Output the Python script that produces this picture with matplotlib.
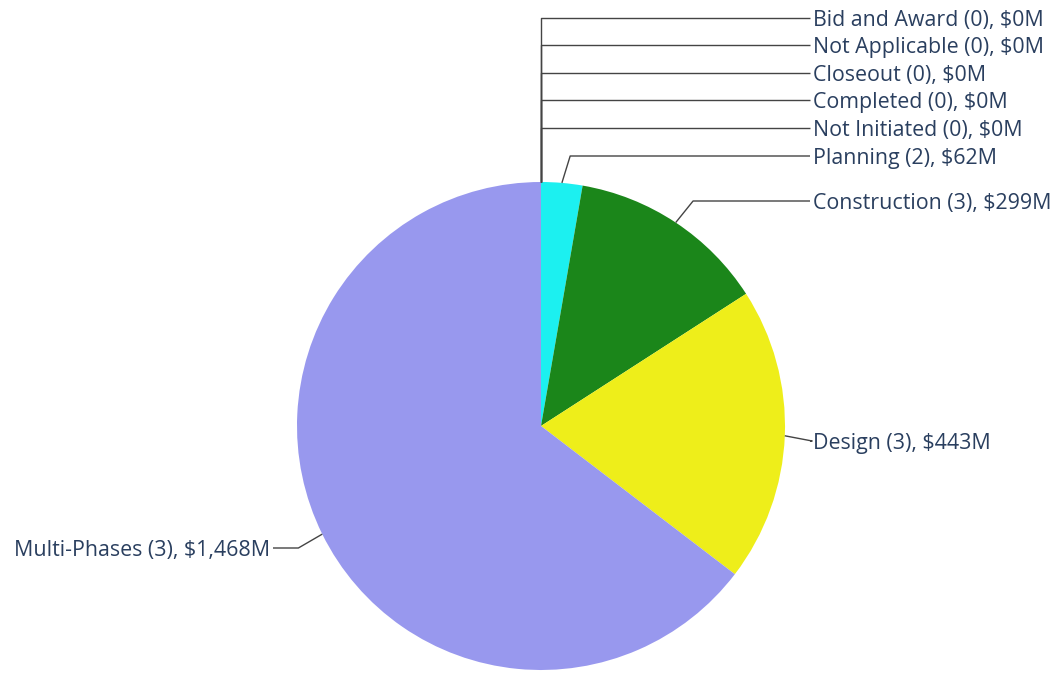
import numpy as np
import matplotlib
matplotlib.use("Agg")
import matplotlib.pyplot as plt

categories = ["Bid and Award", "Not Applicable", "Closeout", "Completed", "Not Initiated",
              "Planning", "Construction", "Design", "Multi-Phases"]
counts = [0, 0, 0, 0, 0, 2, 3, 3, 3]
values = [0, 0, 0, 0, 0, 62, 299, 443, 1468]
colors = ["#636efa", "#ef553b", "#00cc96", "#ab63fa", "#ffa15a",
          "#1cf0f0", "#1b861a", "#eeee1a", "#9898ee"]

W, H = 1058, 673
fig = plt.figure(figsize=(W / 100, H / 100), dpi=100)
ax = fig.add_axes([0, 0, 1, 1])

cx, cy, R = 541, H - 426, 244
ax.pie(values, colors=colors, startangle=90, counterclock=False,
       center=(cx, cy), radius=R, wedgeprops=dict(linewidth=0), frame=True)
ax.set_xlim(0, W)
ax.set_ylim(0, H)
ax.set_aspect("equal")
ax.axis("off")

# label vertical positions (pixels from top)
label_y = [18, 45, 73, 100, 128, 156, 201, 441, 548]
total = sum(values)
cum = 0
txtc = "#2a3f5f"
linec = "#444444"
R2 = 1.113 * R
FS = 15.4
for cat, n, v, ly in zip(categories, counts, values, label_y):
    mid = (cum + v / 2) / total
    cum += v
    ang = np.deg2rad(90 - 360 * mid)
    px, py = cx + R * np.cos(ang), cy + R * np.sin(ang)
    ty = H - ly
    right = np.cos(ang) >= -1e-9
    s = 1 if right else -1
    dy = ty - cy
    if abs(dy) < R2:
        ex = cx + s * np.sqrt(R2 ** 2 - dy ** 2)
    else:
        ex = px
    endx = 810 if right else 273
    ax.plot([px, ex, endx], [py, ty, ty], color=linec, lw=1.0, solid_capstyle="butt")
    label = f"{cat} ({n}), ${v:,}M"
    if right:
        ax.text(endx + 3, ty, label, ha="left", va="center_baseline", fontsize=FS,
                color=txtc, family="Open Sans")
    else:
        ax.text(endx - 3, ty, label, ha="right", va="center_baseline", fontsize=FS,
                color=txtc, family="Open Sans")

fig.savefig("out.png", dpi=100)
